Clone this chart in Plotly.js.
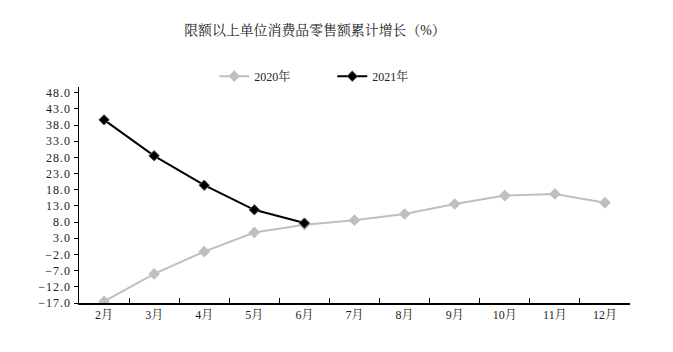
<!DOCTYPE html>
<html><head><meta charset="utf-8">
<script src="https://cdn.plot.ly/plotly-3.0.1.min.js"></script>
<style>html,body{margin:0;padding:0;background:#fff}#c{width:673px;height:352px}
#c .ytick text{letter-spacing:1px}</style>
</head><body><div id="c"></div>
<script>
const months = ["2月","3月","4月","5月","6月","7月","8月","9月","10月","11月","12月"];
const y2020 = [-16.5, -8.0, -1.1, 4.8, 7.2, 8.6, 10.5, 13.6, 16.2, 16.7, 14.0];
const months2021 = ["2月","3月","4月","5月","6月"];
const y2021 = [39.6, 28.5, 19.4, 11.8, 7.7];
const seriesNames = ["2020年", "2021年"];
const titleText = "限额以上单位消费品零售额累计增长（%）";

const fontFam = "'Liberation Serif', 'Noto Serif CJK SC', 'Noto Sans CJK SC', serif";

const traces = [
  {x: months, y: y2020, name: seriesNames[0], type: "scatter", mode: "lines+markers",
   line: {color: "#bfbfbf", width: 2}, marker: {symbol: "diamond", size: 9, color: "#bfbfbf"}},
  {x: months2021, y: y2021, name: seriesNames[1], type: "scatter", mode: "lines+markers",
   line: {color: "#000000", width: 2}, marker: {symbol: "diamond", size: 8, color: "#000000", line:{color:"#555", width:1}}}
];

const layout = {
  width: 673, height: 352,
  margin: {l: 79, r: 43, t: 87, b: 49},
  paper_bgcolor: "#fff", plot_bgcolor: "#fff",
  font: {family: fontFam, size: 12, color: "#222"},
  title: {text: titleText, x: 0.468, xanchor: "center", y: 0.915, yanchor: "middle",
          font: {family: fontFam, size: 13.9, color: "#222"}},
  showlegend: true,
  legend: {orientation: "h", x: 0.2455, xanchor: "left", y: 1.05, yanchor: "middle",
           font: {family: fontFam, size: 12, color: "#222"}, entrywidth: 73, entrywidthmode: "pixels",
           itemwidth: 30, traceorder: "normal"},
  xaxis: {type: "category", categoryarray: months, categoryorder: "array",
          range: [-0.5, 10.5], showline: true, linecolor: "#000", linewidth: 1.5,
          ticks: "inside", tickson: "boundaries", ticklen: 5, tickcolor: "#000",
          showgrid: false, zeroline: false, fixedrange: true},
  yaxis: {range: [-17, 49.76], tick0: -17, dtick: 5, tickformat: ".1f",
          showline: true, linecolor: "#000", linewidth: 1.5,
          ticks: "outside", ticklen: 4, tickcolor: "#000",
          showgrid: false, zeroline: false, fixedrange: true}
};

Plotly.newPlot("c", traces, layout, {displayModeBar: false, staticPlot: true});
</script></body></html>
